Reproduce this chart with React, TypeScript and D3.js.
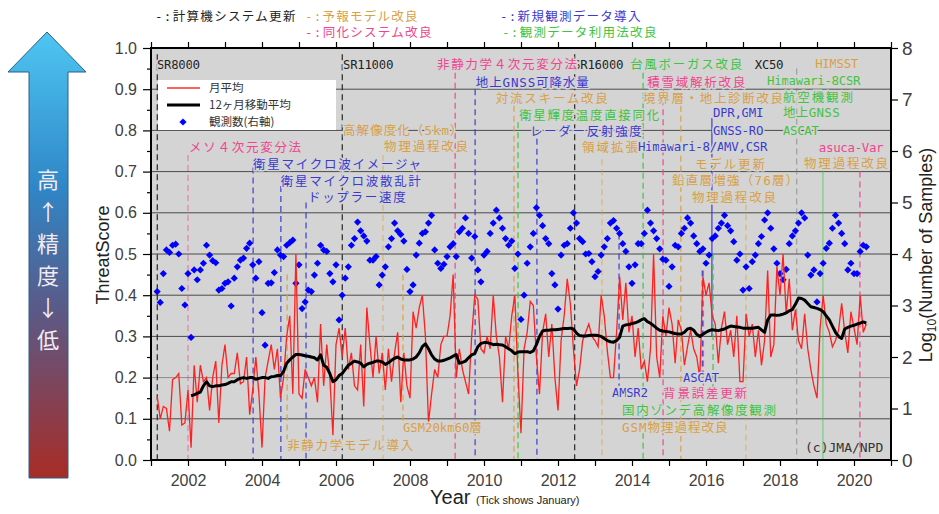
import React, { useEffect, useRef } from "react";
import * as d3 from "d3";

// ---- data ----
// monthly ThreatScore, one row per year; first row starts in March 2001
const scoreStart = { year: 2001, month: 2 };
const monthlyScore: number[][] = [
  [0.155, 0.1, 0.13, 0.125, 0.07, 0.195, 0.2, 0.21, 0.085, 0.09],
  [0.17, 0.03, 0.23, 0.14, 0.23, 0.19, 0.2, 0.12, 0.2, 0.24, 0.09, 0.23],
  [0.28, 0.2, 0.21, 0.21, 0.26, 0.185, 0.19, 0.25, 0.11, 0.17, 0.25, 0.16],
  [0.03, 0.2, 0.24, 0.28, 0.22, 0.27, 0.15, 0.2, 0.3, 0.35, 0.16, 0.5],
  [0.16, 0.15, 0.22, 0.2, 0.18, 0.2, 0.14, 0.33, 0.18, 0.28, 0.2, 0.06],
  [0.28, 0.32, 0.25, 0.32, 0.22, 0.26, 0.18, 0.17, 0.28, 0.13, 0.37, 0.28],
  [0.2, 0.3, 0.21, 0.26, 0.17, 0.27, 0.19, 0.26, 0.31, 0.14, 0.26, 0.18],
  [0.15, 0.36, 0.32, 0.37, 0.4, 0.3, 0.09, 0.16, 0.22, 0.2, 0.28, 0.3],
  [0.3, 0.35, 0.45, 0.2, 0.27, 0.22, 0.19, 0.16, 0.3, 0.4, 0.39, 0.27],
  [0.26, 0.3, 0.27, 0.4, 0.3, 0.25, 0.14, 0.3, 0.27, 0.35, 0.4, 0.21],
  [0.065, 0.27, 0.31, 0.385, 0.375, 0.25, 0.16, 0.31, 0.355, 0.25, 0.33, 0.2],
  [0.12, 0.29, 0.35, 0.44, 0.38, 0.27, 0.18, 0.22, 0.29, 0.31, 0.33, 0.3],
  [0.29, 0.275, 0.4, 0.35, 0.265, 0.2, 0.2, 0.31, 0.445, 0.34, 0.43, 0.31],
  [0.35, 0.25, 0.32, 0.22, 0.24, 0.19, 0.27, 0.5, 0.25, 0.2, 0.35, 0.3],
  [0.37, 0.33, 0.235, 0.34, 0.315, 0.23, 0.275, 0.315, 0.27, 0.25, 0.2, 0.445],
  [0.4, 0.43, 0.35, 0.33, 0.235, 0.32, 0.36, 0.28, 0.315, 0.25, 0.35, 0.19],
  [0.19, 0.355, 0.3, 0.33, 0.25, 0.315, 0.23, 0.29, 0.46, 0.25, 0.28, 0.47],
  [0.4, 0.5, 0.355, 0.44, 0.315, 0.365, 0.29, 0.27, 0.355, 0.27, 0.22, 0.18],
  [0.15, 0.32, 0.4, 0.33, 0.31, 0.275, 0.29, 0.315, 0.38, 0.31, 0.26, 0.36],
  [0.32, 0.28, 0.4, 0.31, 0.33],
];

// 12-month moving average; first row starts in February 2002
const avgStart = { year: 2002, month: 1 };
const movingAvg: number[][] = [
  [0.156, 0.158, 0.162, 0.165, 0.18, 0.19, 0.18, 0.178, 0.18, 0.18, 0.182],
  [0.183, 0.186, 0.19, 0.19, 0.195, 0.198, 0.2, 0.198, 0.2, 0.2, 0.196, 0.198],
  [0.2, 0.2, 0.198, 0.202, 0.203, 0.205, 0.205, 0.215, 0.235, 0.243, 0.25, 0.256],
  [0.256, 0.255, 0.253, 0.252, 0.25, 0.248, 0.243, 0.255, 0.23, 0.225, 0.21, 0.19],
  [0.195, 0.205, 0.21, 0.22, 0.23, 0.235, 0.24, 0.238, 0.235, 0.226, 0.232, 0.235],
  [0.237, 0.24, 0.24, 0.238, 0.232, 0.236, 0.242, 0.247, 0.25, 0.245, 0.243, 0.243],
  [0.243, 0.245, 0.25, 0.26, 0.275, 0.282, 0.27, 0.255, 0.245, 0.24, 0.24, 0.242],
  [0.245, 0.248, 0.252, 0.256, 0.235, 0.237, 0.24, 0.248, 0.255, 0.258, 0.275, 0.283],
  [0.285, 0.285, 0.283, 0.28, 0.281, 0.28, 0.279, 0.275, 0.27, 0.265, 0.258, 0.262],
  [0.263, 0.263, 0.263, 0.261, 0.265, 0.28, 0.3, 0.313, 0.315, 0.315, 0.316, 0.316],
  [0.317, 0.318, 0.319, 0.319, 0.32, 0.318, 0.308, 0.302, 0.301, 0.301, 0.302, 0.303],
  [0.303, 0.302, 0.3, 0.295, 0.29, 0.287, 0.286, 0.29, 0.298, 0.325, 0.328, 0.329],
  [0.331, 0.333, 0.336, 0.34, 0.343, 0.336, 0.332, 0.326, 0.32, 0.315, 0.313, 0.312],
  [0.311, 0.309, 0.307, 0.306, 0.306, 0.31, 0.318, 0.32, 0.315, 0.305, 0.3, 0.305],
  [0.31, 0.314, 0.316, 0.315, 0.314, 0.316, 0.318, 0.322, 0.325, 0.324, 0.323, 0.322],
  [0.32, 0.32, 0.32, 0.32, 0.321, 0.322, 0.316, 0.31, 0.34, 0.352, 0.352, 0.351],
  [0.352, 0.354, 0.357, 0.362, 0.365, 0.378, 0.393, 0.392, 0.388, 0.38, 0.372, 0.37],
  [0.368, 0.365, 0.36, 0.35, 0.34, 0.325, 0.31, 0.3, 0.295, 0.318, 0.322, 0.325],
  [0.327, 0.33, 0.332, 0.335, 0.332],
];

// log10(number of samples), right axis; first row starts in March 2001
const countStart = { year: 2001, month: 2 };
const logSamples: number[][] = [
  [3.27, 3.06, 3.62, 4.08, 4.03, 4.17, 4.19, 4.0, 3.33, 3.01],
  [3.62, 2.38, 3.69, 3.5, 3.69, 3.82, 4.17, 3.98, 3.87, 3.83, 3.3, 3.33],
  [3.43, 3.46, 2.99, 3.53, 3.75, 3.88, 3.92, 4.11, 4.21, 3.79, 3.53, 3.85],
  [2.86, 2.23, 3.43, 3.44, 3.64, 4.08, 3.98, 3.95, 4.17, 4.22, 4.27, 3.43],
  [3.79, 2.94, 3.07, 3.3, 3.27, 3.59, 3.82, 4.17, 4.08, 4.05, 3.62, 3.46],
  [3.79, 2.72, 3.2, 3.53, 3.75, 4.17, 4.3, 4.62, 4.45, 4.35, 4.25, 3.88],
  [3.88, 3.95, 3.4, 3.59, 3.75, 4.14, 4.3, 4.6, 4.45, 4.38, 4.25, 3.7],
  [3.27, 3.4, 3.98, 4.21, 4.4, 4.43, 4.6, 4.75, 4.08, 3.82, 3.72, 3.8],
  [3.95, 4.14, 4.2, 3.95, 4.43, 4.5, 4.7, 4.4, 3.92, 4.34, 3.69, 3.46],
  [3.98, 4.05, 4.4, 4.6, 4.85, 4.7, 4.5, 4.3, 4.17, 4.25, 3.72, 4.0],
  [2.73, 3.2, 3.82, 4.14, 4.4, 4.9, 4.75, 4.55, 4.3, 4.2, 3.62, 3.4],
  [2.93, 3.98, 4.17, 4.2, 4.5, 4.8, 4.6, 4.3, 4.24, 4.0, 4.01, 3.85],
  [3.56, 3.66, 3.98, 4.14, 4.3, 4.6, 4.65, 4.5, 4.4, 4.2, 4.05, 3.75],
  [3.43, 3.79, 4.2, 4.2, 4.4, 4.85, 4.6, 4.45, 4.3, 4.1, 3.9, 3.88],
  [3.37, 3.75, 4.17, 4.14, 4.4, 4.5, 4.7, 4.6, 4.35, 4.2, 4.05, 4.1],
  [3.82, 3.98, 4.3, 4.35, 4.5, 4.6, 4.75, 4.55, 4.45, 4.24, 3.88, 4.0],
  [3.3, 3.75, 3.33, 3.85, 3.98, 4.2, 4.34, 4.66, 4.8, 4.5, 4.1, 3.82],
  [3.62, 3.5, 3.7, 4.2, 4.35, 4.45, 4.6, 4.8, 4.7, 3.98, 3.59, 3.69],
  [3.07, 3.62, 3.82, 4.11, 4.21, 4.5, 4.75, 4.6, 4.4, 4.2, 3.69, 3.82],
  [3.62, 3.62, 4.05, 4.17, 4.14],
];

const yearTicks = d3.range(2001, 2022);
const scoreTicks = d3.range(0, 11).map((i) => i / 10);
const countTicks = d3.range(0, 9);
const legendLabels = ["月平均", "12ヶ月移動平均", "観測数(右軸)"];

type Cat = "sys" | "model" | "da" | "newobs" | "obsuse";

const catColor: Record<Cat, string> = {
  sys: "#222222",
  model: "#d9a043",
  da: "#f0458d",
  newobs: "#3a3ad0",
  obsuse: "#3ec43e",
};

const categoryKey: { cat: Cat; text: string; x: number; y: number }[] = [
  { cat: "sys", text: "-:計算機システム更新", x: 155, y: 17 },
  { cat: "model", text: "-:予報モデル改良", x: 305, y: 17 },
  { cat: "da", text: "-:同化システム改良", x: 305, y: 33 },
  { cat: "newobs", text: "-:新規観測データ導入", x: 500, y: 17 },
  { cat: "obsuse", text: "-:観測データ利用法改良", x: 502, y: 33 },
];

// event lines: t = decimal year, top/bottom in ThreatScore units
const eventLines: { t: number; cat: Cat; top: number; bottom: number; solid?: boolean; faint?: boolean }[] = [
  { t: 2001.17, cat: "sys", top: 0.985, bottom: 0 },
  { t: 2006.17, cat: "sys", top: 0.985, bottom: 0 },
  { t: 2012.45, cat: "sys", top: 0.985, bottom: 0 },
  { t: 2018.45, cat: "sys", top: 0.95, bottom: 0, faint: true },
  { t: 2002.0, cat: "da", top: 0.74, bottom: 0, faint: true },
  { t: 2009.22, cat: "da", top: 0.94, bottom: 0 },
  { t: 2014.84, cat: "da", top: 0.9, bottom: 0 },
  { t: 2015.93, cat: "da", top: 0.46, bottom: 0.18 },
  { t: 2020.16, cat: "da", top: 0.7, bottom: 0 },
  { t: 2004.68, cat: "model", top: 0.45, bottom: 0.05 },
  { t: 2007.27, cat: "model", top: 0.74, bottom: 0, faint: true },
  { t: 2007.81, cat: "model", top: 0.45, bottom: 0.09 },
  { t: 2010.81, cat: "model", top: 0.86, bottom: 0 },
  { t: 2013.19, cat: "model", top: 0.73, bottom: 0, faint: true },
  { t: 2015.32, cat: "model", top: 0.86, bottom: 0 },
  { t: 2017.08, cat: "model", top: 0.62, bottom: 0, faint: true },
  { t: 2003.76, cat: "newobs", top: 0.71, bottom: 0 },
  { t: 2004.51, cat: "newobs", top: 0.665, bottom: 0 },
  { t: 2005.19, cat: "newobs", top: 0.625, bottom: 0 },
  { t: 2009.76, cat: "newobs", top: 0.9, bottom: 0 },
  { t: 2011.43, cat: "newobs", top: 0.78, bottom: 0 },
  { t: 2013.65, cat: "newobs", top: 0.55, bottom: 0.18 },
  { t: 2015.9, cat: "newobs", top: 0.46, bottom: 0.21 },
  { t: 2016.16, cat: "newobs", top: 0.83, bottom: 0.3, solid: true },
  { t: 2010.92, cat: "obsuse", top: 0.82, bottom: 0 },
  { t: 2014.3, cat: "obsuse", top: 0.94, bottom: 0 },
  { t: 2016.19, cat: "obsuse", top: 0.5, bottom: 0.13 },
  { t: 2019.16, cat: "obsuse", top: 0.72, bottom: 0, solid: true, faint: true },
];

// event labels: t = decimal year of left edge, v = ThreatScore of text centre
const eventLabels: { text: string; cat: Cat; t: number; v: number }[] = [
  { text: "SR8000", cat: "sys", t: 2001.16, v: 0.959 },
  { text: "SR11000", cat: "sys", t: 2006.19, v: 0.959 },
  { text: "SR16000", cat: "sys", t: 2012.41, v: 0.959 },
  { text: "XC50", cat: "sys", t: 2017.32, v: 0.959 },
  { text: "非静力学４次元変分法", cat: "da", t: 2008.73, v: 0.959 },
  { text: "台風ボーガス改良", cat: "obsuse", t: 2013.95, v: 0.959 },
  { text: "HIMSST", cat: "model", t: 2018.95, v: 0.962 },
  { text: "地上GNSS可降水量", cat: "newobs", t: 2009.78, v: 0.917 },
  { text: "積雪域解析改良", cat: "da", t: 2014.41, v: 0.917 },
  { text: "Himawari-8CSR", cat: "obsuse", t: 2017.65, v: 0.92 },
  { text: "対流スキーム改良", cat: "model", t: 2010.32, v: 0.876 },
  { text: "境界層・地上診断改良", cat: "model", t: 2014.3, v: 0.876 },
  { text: "航空機観測", cat: "obsuse", t: 2018.08, v: 0.879 },
  { text: "DPR,GMI", cat: "newobs", t: 2016.19, v: 0.842 },
  { text: "地上GNSS", cat: "obsuse", t: 2018.08, v: 0.842 },
  { text: "衛星輝度温度直接同化", cat: "obsuse", t: 2010.95, v: 0.835 },
  { text: "高解像度化（5km）", cat: "model", t: 2006.19, v: 0.8 },
  { text: "GNSS-RO", cat: "newobs", t: 2016.19, v: 0.8 },
  { text: "ASCAT", cat: "obsuse", t: 2018.08, v: 0.8 },
  { text: "レーダー反射強度", cat: "newobs", t: 2011.24, v: 0.796 },
  { text: "メソ４次元変分法", cat: "da", t: 2002.03, v: 0.757 },
  { text: "物理過程改良", cat: "model", t: 2007.3, v: 0.76 },
  { text: "領域拡張", cat: "model", t: 2012.65, v: 0.757 },
  { text: "Himawari-8/AMV,CSR", cat: "newobs", t: 2014.16, v: 0.76 },
  { text: "asuca-Var", cat: "da", t: 2019.05, v: 0.757 },
  { text: "衛星マイクロ波イメージャ", cat: "newobs", t: 2003.76, v: 0.716 },
  { text: "モデル更新", cat: "model", t: 2015.7, v: 0.718 },
  { text: "物理過程改良", cat: "model", t: 2018.65, v: 0.72 },
  { text: "衛星マイクロ波散乱計", cat: "newobs", t: 2004.51, v: 0.675 },
  { text: "鉛直層増強（76層）", cat: "model", t: 2015.08, v: 0.677 },
  { text: "ドップラー速度", cat: "newobs", t: 2005.24, v: 0.636 },
  { text: "物理過程改良", cat: "model", t: 2015.62, v: 0.638 },
  { text: "ASCAT", cat: "newobs", t: 2015.38, v: 0.2 },
  { text: "AMSR2", cat: "newobs", t: 2013.46, v: 0.163 },
  { text: "背景誤差更新", cat: "da", t: 2014.84, v: 0.16 },
  { text: "国内ゾンデ高解像度観測", cat: "obsuse", t: 2013.73, v: 0.121 },
  { text: "GSM20km60層", cat: "model", t: 2007.81, v: 0.078 },
  { text: "GSM物理過程改良", cat: "model", t: 2013.73, v: 0.078 },
  { text: "非静力学モデル導入", cat: "model", t: 2004.68, v: 0.036 },
];

const arrowText = ["高", "↑", "精", "度", "↓", "低"];

const MONO = "'DejaVu Sans Mono', 'Noto Sans CJK JP', monospace";
const JP = "'Noto Sans CJK JP', sans-serif";
const SANS = "'Liberation Sans', Arial, sans-serif";

// half/full-width widths like a Japanese gothic monospace font
const monoWidth = (s: string) =>
  Array.from(s).reduce((w, c) => w + (c.charCodeAt(0) > 0xff ? 14 : 7.2), 0);

const toSeries = (rows: number[][], start: { year: number; month: number }) =>
  rows.flatMap((row, i) =>
    row.map((v, j) => {
      const m = i === 0 ? start.month + j : j;
      return { t: start.year + i + m / 12, v };
    })
  );

export default function App() {
  const svgRef = useRef<SVGSVGElement>(null);

  useEffect(() => {
    renderChart();
  }, []);

  const renderChart = () => {
    if (!svgRef.current) return;
    const svg = d3.select(svgRef.current);
    svg.selectAll("*").remove();

    const plot = { left: 151, right: 891, top: 48, bottom: 460 };

    const x = d3.scaleLinear().domain([2001, 2021]).range([plot.left, plot.right]);
    const y = d3.scaleLinear().domain([0, 1]).range([plot.bottom, plot.top]);
    const yR = d3.scaleLinear().domain([0, 8]).range([plot.bottom, plot.top]);

    const score = toSeries(monthlyScore, scoreStart);
    const avg = toSeries(movingAvg, avgStart);
    const counts = toSeries(logSamples, countStart);

    // ---- accuracy arrow on the left ----
    const defs = svg.append("defs");
    const grad = defs
      .append("linearGradient")
      .attr("id", "arrowGrad")
      .attr("x1", 0)
      .attr("y1", 0)
      .attr("x2", 0)
      .attr("y2", 1);
    grad.append("stop").attr("offset", "0%").attr("stop-color", "#4ec6f2");
    grad.append("stop").attr("offset", "35%").attr("stop-color", "#2f86c6");
    grad.append("stop").attr("offset", "62%").attr("stop-color", "#5a5a88");
    grad.append("stop").attr("offset", "100%").attr("stop-color", "#a82c26");

    svg
      .append("path")
      .attr("d", "M47,32 L86,72 L68,72 L68,478 L29,478 L29,72 L8,72 Z")
      .attr("fill", "url(#arrowGrad)")
      .attr("stroke", "#2c5f8e")
      .attr("stroke-width", 1);

    svg
      .append("g")
      .selectAll("text")
      .data(arrowText)
      .join("text")
      .attr("x", 48)
      .attr("y", (_, i) => 180 + i * 32)
      .attr("dy", "0.35em")
      .attr("text-anchor", "middle")
      .attr("font-family", JP)
      .attr("font-size", 22)
      .attr("fill", "#f4eaf0")
      .text((d) => d);

    // ---- category key above the plot ----
    svg
      .append("g")
      .selectAll("text")
      .data(categoryKey)
      .join("text")
      .attr("x", (d) => d.x)
      .attr("y", (d) => d.y)
      .attr("dy", "0.35em")
      .attr("font-family", MONO)
      .attr("font-size", 12.5)
      .attr("fill", (d) => catColor[d.cat])
      .attr("textLength", (d) => monoWidth(d.text))
      .attr("lengthAdjust", "spacing")
      .text((d) => d.text);

    // ---- plot background ----
    svg
      .append("rect")
      .attr("x", plot.left)
      .attr("y", plot.top)
      .attr("width", plot.right - plot.left)
      .attr("height", plot.bottom - plot.top)
      .attr("fill", "#d4d4d4");

    // gridlines
    svg
      .append("g")
      .selectAll("line")
      .data(scoreTicks.slice(1, -1))
      .join("line")
      .attr("x1", plot.left)
      .attr("x2", plot.right)
      .attr("y1", (d) => y(d))
      .attr("y2", (d) => y(d))
      .attr("stroke", (d) => (Math.abs(d - 0.2) < 1e-6 ? "#8a8a8a" : "#4a4a4a"))
      .attr("stroke-width", 1);

    // event lines
    svg
      .append("g")
      .selectAll("line")
      .data(eventLines)
      .join("line")
      .attr("x1", (d) => x(d.t))
      .attr("x2", (d) => x(d.t))
      .attr("y1", (d) => y(d.top))
      .attr("y2", (d) => y(d.bottom))
      .attr("stroke", (d) => (d.cat === "sys" && d.faint ? "#777" : catColor[d.cat]))
      .attr("stroke-opacity", (d) => (d.faint ? 0.55 : 0.9))
      .attr("stroke-width", 1.3)
      .attr("stroke-dasharray", (d) => (d.solid ? null : "6,4"));

    // legend box
    const lg = svg.append("g");
    lg.append("rect")
      .attr("x", 158)
      .attr("y", 80)
      .attr("width", 178)
      .attr("height", 50)
      .attr("fill", "#ffffff");
    lg.append("line")
      .attr("x1", 167)
      .attr("x2", 200)
      .attr("y1", 88)
      .attr("y2", 88)
      .attr("stroke", "#ff2a2a")
      .attr("stroke-width", 1.5);
    lg.append("line")
      .attr("x1", 167)
      .attr("x2", 200)
      .attr("y1", 105)
      .attr("y2", 105)
      .attr("stroke", "#000")
      .attr("stroke-width", 3);
    lg.append("path")
      .attr("d", d3.symbol(d3.symbolSquare, 26)()!)
      .attr("transform", "translate(183,122) rotate(45)")
      .attr("fill", "#0000ff");
    lg.selectAll("text")
      .data(legendLabels)
      .join("text")
      .attr("x", 209)
      .attr("y", (_, i) => 88 + i * 17)
      .attr("dy", "0.35em")
      .attr("font-family", JP)
      .attr("font-size", 11.5)
      .attr("fill", "#333")
      .text((d) => d);

    // ---- data ----
    svg
      .append("g")
      .selectAll("path")
      .data(counts)
      .join("path")
      .attr("d", d3.symbol(d3.symbolSquare, 26)()!)
      .attr("transform", (d) => `translate(${x(d.t)},${yR(d.v)}) rotate(45)`)
      .attr("fill", "#0000ff");

    const line = d3
      .line<{ t: number; v: number }>()
      .x((d) => x(d.t))
      .y((d) => y(d.v));

    svg
      .append("path")
      .datum(score)
      .attr("d", line)
      .attr("fill", "none")
      .attr("stroke", "#ff2020")
      .attr("stroke-width", 1.3);

    svg
      .append("path")
      .datum(avg)
      .attr("d", line)
      .attr("fill", "none")
      .attr("stroke", "#000")
      .attr("stroke-width", 3)
      .attr("stroke-linejoin", "round");

    // event labels
    svg
      .append("g")
      .selectAll("text")
      .data(eventLabels)
      .join("text")
      .attr("x", (d) => x(d.t))
      .attr("y", (d) => y(d.v))
      .attr("dy", "0.35em")
      .attr("font-family", MONO)
      .attr("font-size", 12.5)
      .attr("fill", (d) => catColor[d.cat])
      .attr("stroke", "#d4d4d4")
      .attr("stroke-width", 3)
      .attr("paint-order", "stroke")
      .attr("textLength", (d) => monoWidth(d.text))
      .attr("lengthAdjust", "spacing")
      .text((d) => d.text);

    svg
      .append("text")
      .attr("x", 805)
      .attr("y", 447)
      .attr("dy", "0.35em")
      .attr("font-family", MONO)
      .attr("font-size", 13)
      .attr("fill", "#333")
      .text("(c)JMA/NPD");

    // ---- frame and axes ----
    svg
      .append("rect")
      .attr("x", plot.left)
      .attr("y", plot.top)
      .attr("width", plot.right - plot.left)
      .attr("height", plot.bottom - plot.top)
      .attr("fill", "none")
      .attr("stroke", "#000")
      .attr("stroke-width", 2);

    const styleAxis = (g: d3.Selection<SVGGElement, unknown, null, undefined>, size: number) => {
      g.select(".domain").remove();
      g.selectAll(".tick line").attr("stroke", "#000").attr("stroke-width", 1.2);
      g.selectAll("text")
        .attr("font-family", SANS)
        .attr("font-size", size)
        .attr("fill", "#404040");
    };

    svg
      .append("g")
      .attr("transform", `translate(0,${plot.bottom})`)
      .call(
        d3
          .axisBottom(x)
          .tickValues(yearTicks)
          .tickSize(6)
          .tickPadding(9)
          .tickFormat((d) => (+d % 2 === 0 && +d < 2021 ? String(d) : ""))
      )
      .call((g) => styleAxis(g, 16));

    svg
      .append("g")
      .attr("transform", `translate(0,${plot.top})`)
      .call(d3.axisTop(x).tickValues(yearTicks).tickSize(6).tickFormat(() => ""))
      .call((g) => styleAxis(g, 16));

    svg
      .append("g")
      .attr("transform", `translate(${plot.left},0)`)
      .call(d3.axisLeft(y).tickValues(scoreTicks).tickSize(8).tickPadding(6).tickFormat(d3.format(".1f")))
      .call((g) => styleAxis(g, 16));

    svg
      .append("g")
      .attr("transform", `translate(${plot.left},0)`)
      .call(d3.axisLeft(y).tickValues(scoreTicks.slice(0, -1).map((d) => d + 0.05)).tickSize(4).tickFormat(() => ""))
      .call((g) => styleAxis(g, 16));

    svg
      .append("g")
      .attr("transform", `translate(${plot.right},0)`)
      .call(d3.axisRight(yR).tickValues(countTicks).tickSize(7).tickPadding(4).tickFormat(d3.format("d")))
      .call((g) => styleAxis(g, 19));

    // axis titles
    svg
      .append("text")
      .attr("transform", "translate(103,255) rotate(-90)")
      .attr("text-anchor", "middle")
      .attr("dy", "0.35em")
      .attr("font-family", SANS)
      .attr("font-size", 18)
      .attr("fill", "#222")
      .text("ThreatScore");

    const rt = svg
      .append("text")
      .attr("transform", "translate(926,255) rotate(-90)")
      .attr("text-anchor", "middle")
      .attr("dy", "0.35em")
      .attr("font-family", SANS)
      .attr("font-size", 18)
      .attr("fill", "#222");
    rt.append("tspan").text("Log");
    rt.append("tspan").attr("font-size", 12).attr("dy", 4).text("10");
    rt.append("tspan").attr("dy", -4).text("(Number of Samples)");

    const xt = svg
      .append("text")
      .attr("x", 430)
      .attr("y", 504)
      .attr("font-family", SANS)
      .attr("font-size", 20)
      .attr("fill", "#222");
    xt.append("tspan").text("Year ");
    xt.append("tspan").attr("font-size", 11).text("(Tick shows January)");
  };

  return (
    <svg
      ref={svgRef}
      width={939}
      height={514}
      style={{ position: "absolute", left: 0, top: 0, background: "#fff" }}
    />
  );
}
